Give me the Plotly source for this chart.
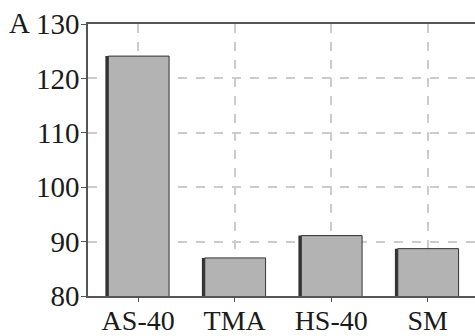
import plotly.graph_objects as go

categories = ["AS-40", "TMA", "HS-40", "SM"]
values = [124.1, 87.0, 91.1, 88.7]
y_ticks = [80, 90, 100, 110, 120, 130]

font = dict(family="Liberation Serif", size=28, color="#1a1a1a")

fig = go.Figure()
# dark shadow (left edge look)
fig.add_trace(go.Bar(
    x=list(range(len(categories))), y=values, base=0,
    width=0.65, offset=-0.34,
    marker=dict(color="#333333", line=dict(width=0)),
    hoverinfo="skip", showlegend=False,
))
fig.add_trace(go.Bar(
    x=list(range(len(categories))), y=values,
    width=0.63, offset=-0.31,
    marker=dict(color="#b3b3b3", line=dict(color="#333333", width=1)),
    showlegend=False,
))

fig.update_layout(
    width=475, height=336,
    margin=dict(l=88, r=0, t=24, b=40),
    paper_bgcolor="white", plot_bgcolor="white",
    barmode="overlay",
    font=font,
    xaxis=dict(
        range=[-0.52, 3.49], automargin=False,
        tickmode="array", tickvals=list(range(len(categories))), ticktext=categories,
        showgrid=True, gridcolor="#cccccc", griddash="dash", gridwidth=1.5,
        showline=True, linecolor="#555555", linewidth=1.5, mirror=True,
        ticks="outside", ticklen=4, tickcolor="#555555",
        ticklabelstandoff=-5,
        zeroline=False,
    ),
    yaxis=dict(
        range=[80, 130], automargin=False,
        tickmode="array", tickvals=y_ticks,
        showgrid=True, gridcolor="#cccccc", griddash="dash", gridwidth=1.5,
        showline=True, linecolor="#555555", linewidth=1.5,
        ticks="outside", ticklen=5, tickcolor="#555555",
        ticklabelstandoff=-4,
        tickfont=dict(family="Liberation Serif", size=29, color="#1a1a1a"),
        zeroline=False,
    ),
    annotations=[dict(
        text="A", xref="paper", yref="paper", x=-0.21, y=1.005,
        xanchor="left", yanchor="middle", showarrow=False,
        font=dict(family="Liberation Serif", size=29, color="#1a1a1a"),
    )],
)

fig.write_html("out.html")
